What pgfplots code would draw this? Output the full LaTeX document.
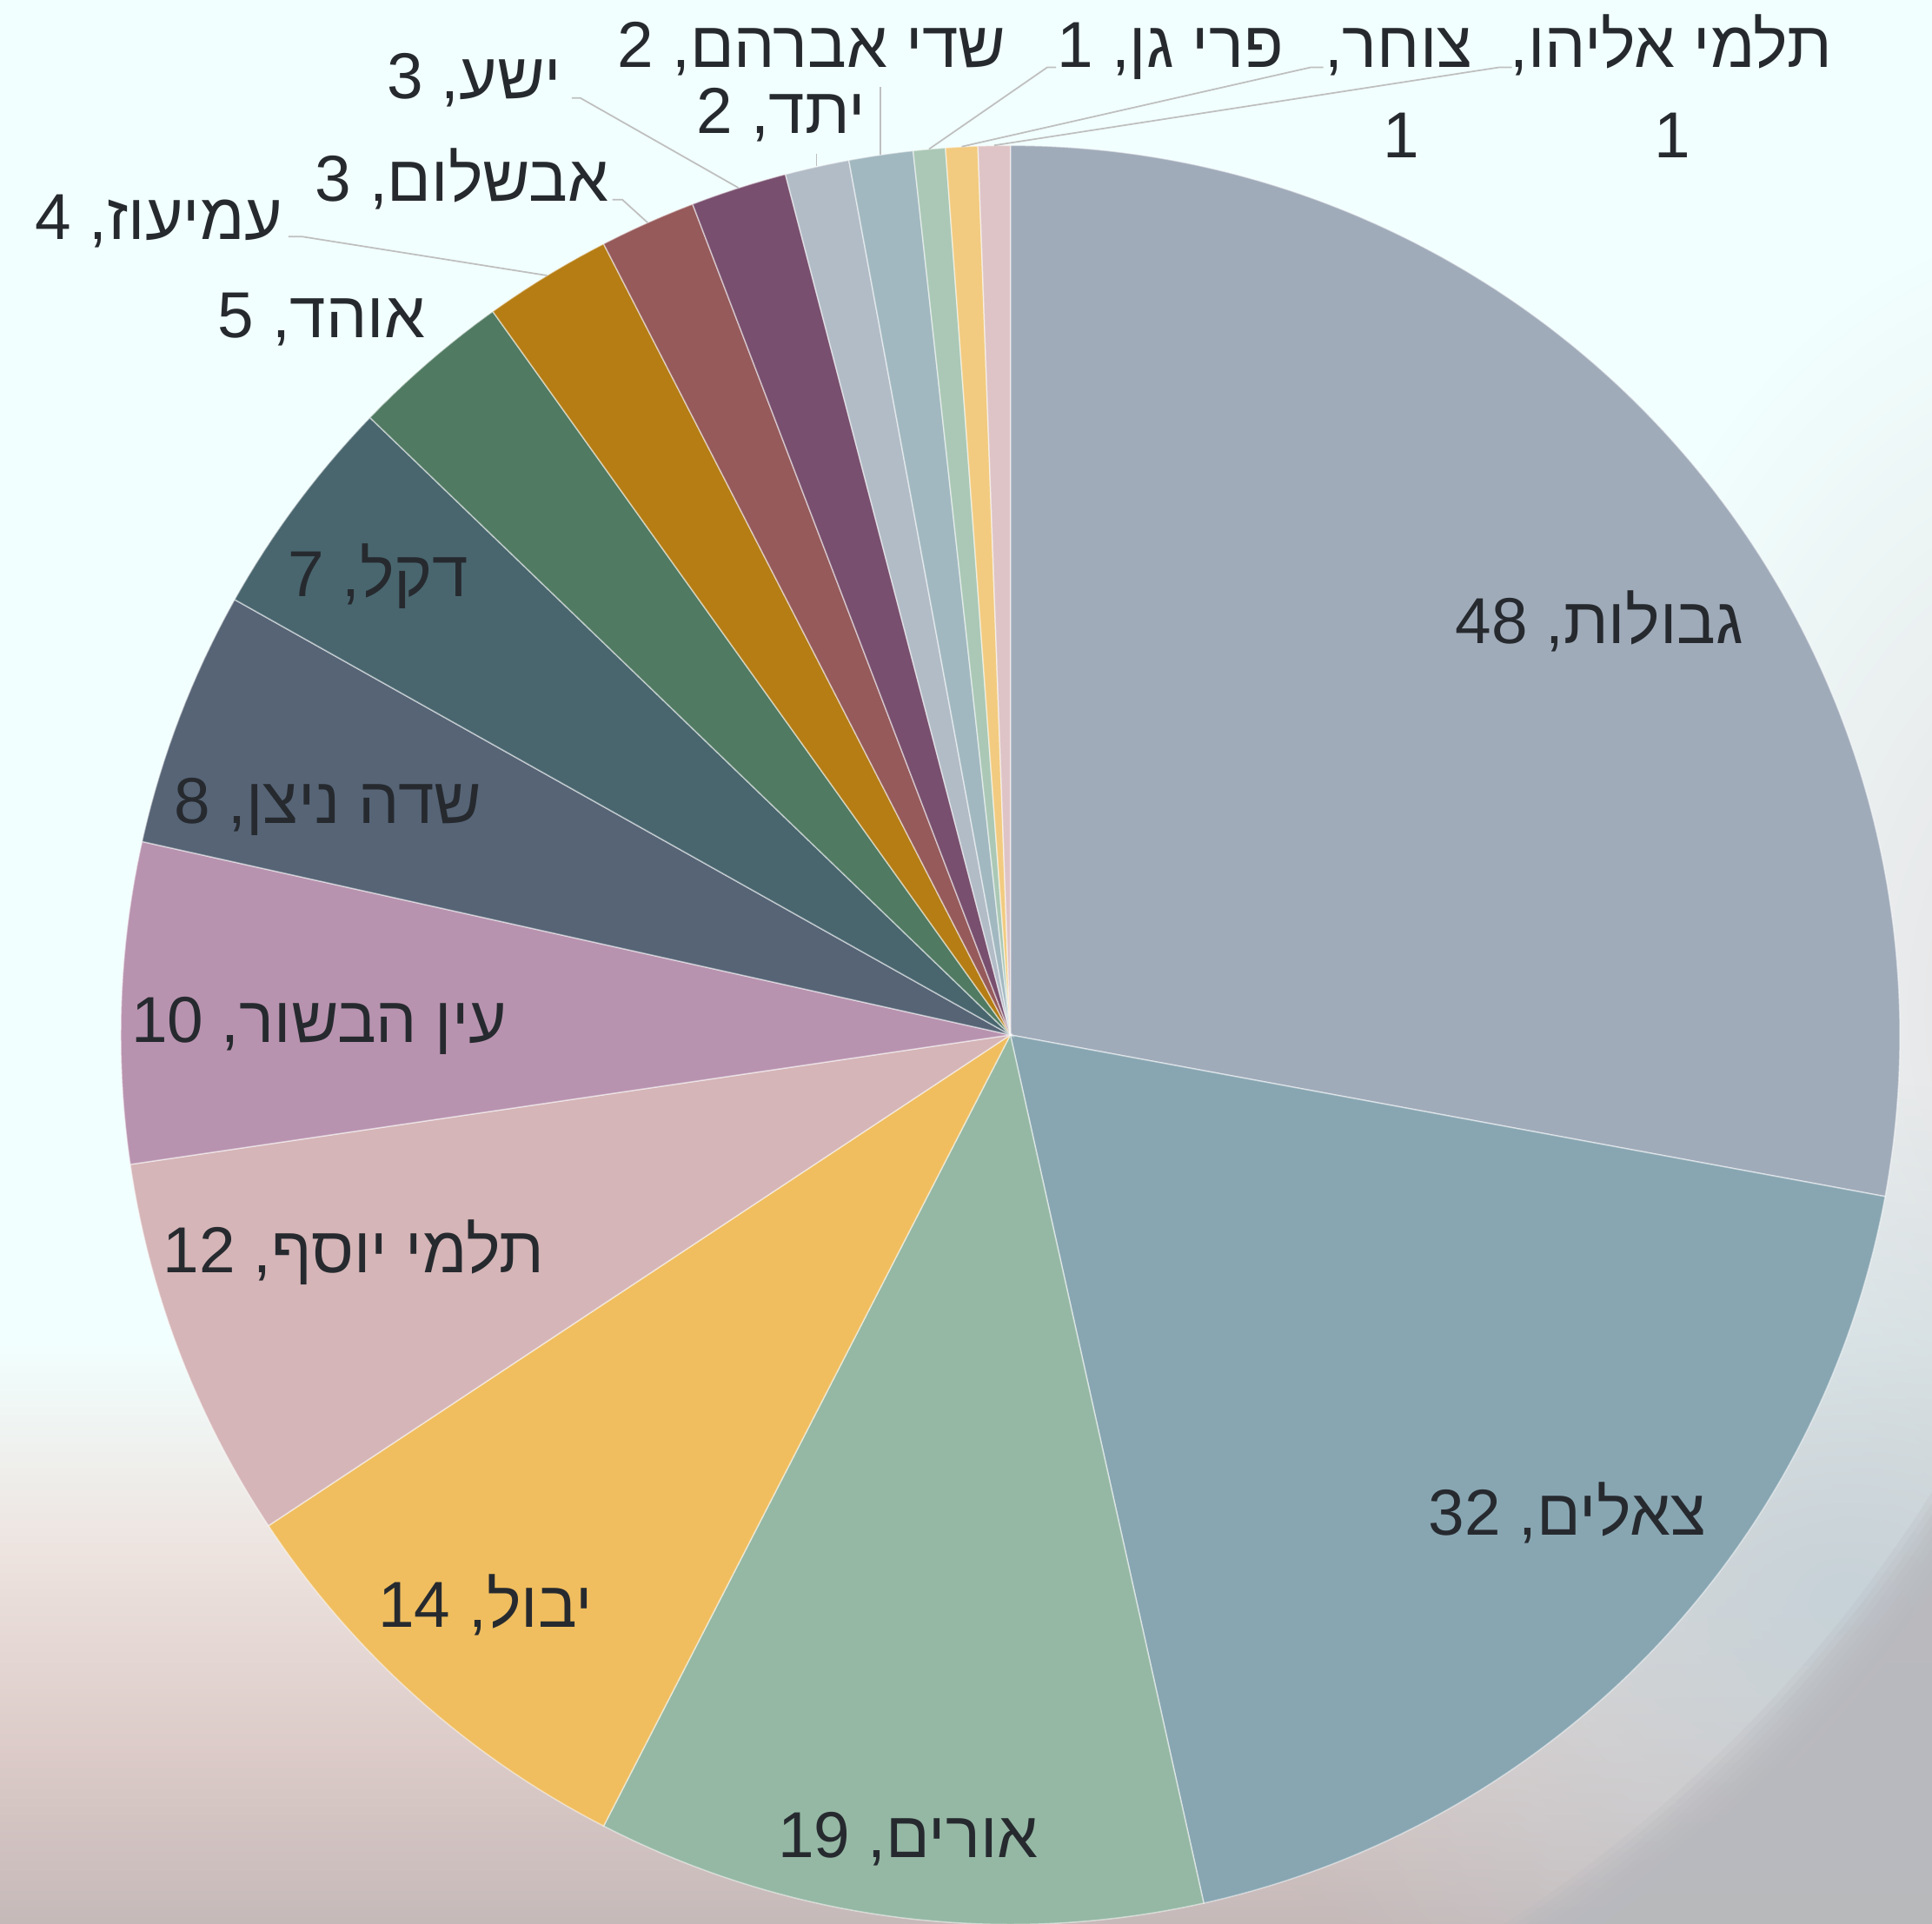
\documentclass[border=0pt]{standalone}
\usepackage{fontspec}
\usepackage{pgfplots}
\pgfplotsset{compat=1.18}
\usetikzlibrary{fadings}
\TeXXeTstate=1
\newfontfamily\heb[Script=Hebrew]{Liberation Sans}

\definecolor{sA}{HTML}{A0ABBA}
\definecolor{sB}{HTML}{88A6B2}
\definecolor{sC}{HTML}{95B8A4}
\definecolor{sD}{HTML}{F0BE5F}
\definecolor{sE}{HTML}{D5B5B7}
\definecolor{sF}{HTML}{B893AF}
\definecolor{sG}{HTML}{566476}
\definecolor{sH}{HTML}{49666F}
\definecolor{sI}{HTML}{507A62}
\definecolor{sJ}{HTML}{B57D13}
\definecolor{sK}{HTML}{965A5A}
\definecolor{sL}{HTML}{784F6E}
\definecolor{sM}{HTML}{B2BCC7}
\definecolor{sN}{HTML}{A1B8C0}
\definecolor{sO}{HTML}{AAC8B5}
\definecolor{sP}{HTML}{F2CB80}
\definecolor{sQ}{HTML}{DEC4C6}
\definecolor{txt}{HTML}{262A2F}
\definecolor{lead}{HTML}{BFBFBF}
\definecolor{bg0}{HTML}{F1FFFE}
\definecolor{bg1}{HTML}{EDE3DF}
\definecolor{bg2}{HTML}{DCCBC8}
\definecolor{bg3}{HTML}{C4B8B8}
\definecolor{rtint}{HTML}{E4DFE1}
\definecolor{band}{HTML}{C6D2D8}
\definecolor{outgrey}{HTML}{B8B9BE}

\tikzfading[name=blob, inner color=transparent!0, outer color=transparent!100]
\tikzset{lbl/.style={font=\heb\fontsize{15pt}{18pt}\selectfont, text=txt, inner sep=0pt, anchor=base}}

% total = 172 ; arguments: cumulative value before slice, value, colour
\newcommand{\slice}[3]{%
  \addplot[fill=#3, draw=white, draw opacity=0.5, line width=0.3pt,
    domain={90-(#1+#2)*360/172}:{90-#1*360/172}, samples=150, variable=\t]
    ({820+722*cos(\t)}, {840-722*sin(\t)}) -- (axis cs:820,840) -- cycle;
}

\begin{document}
\begin{tikzpicture}
\begin{scope}[x=0.01cm, y=-0.01cm, shift={(0cm,15.61cm)}]
  \clip (-10,-10) rectangle (1578,1571);
  \fill[bg0] (-10,-10) rectangle (1578,1092);
  \shade[top color=bg0, bottom color=bg1] (-10,1090) rectangle (1578,1262);
  \shade[top color=bg1, bottom color=bg2] (-10,1260) rectangle (1578,1422);
  \shade[top color=bg2, bottom color=bg3] (-10,1420) rectangle (1578,1571);
  \fill[rtint, path fading=blob] (1700,820) ellipse (4.4cm and 6.4cm);
  \begin{scope}
    \clip (600,600) circle (11.9cm);
    \fill[band, path fading=blob] (1500,1300) ellipse (5.4cm and 4.2cm);
  \end{scope}
  \foreach \r in {11.45,11.5,11.55,11.6,11.65,11.7,11.75,11.8,11.85,11.9,11.95}{
    \fill[outgrey, fill opacity=0.22, even odd rule] (-600,-600) rectangle (2500,2500) (600,600) circle (\r cm);
  }
\end{scope}

\begin{axis}[at={(0,0)}, anchor=south west, scale only axis,
  width=15.68cm, height=15.61cm,
  xmin=0, xmax=1568, ymin=0, ymax=1561, y dir=reverse,
  hide axis, clip=false]
\slice{0}{48}{sA}
\slice{48}{32}{sB}
\slice{80}{19}{sC}
\slice{99}{14}{sD}
\slice{113}{12}{sE}
\slice{125}{10}{sF}
\slice{135}{8}{sG}
\slice{143}{7}{sH}
\slice{150}{5}{sI}
\slice{155}{4}{sJ}
\slice{159}{3}{sK}
\slice{162}{3}{sL}
\slice{165}{2}{sM}
\slice{167}{2}{sN}
\slice{169}{1}{sO}
\slice{170}{1}{sP}
\slice{171}{1}{sQ}

\draw[lead, line width=0.35pt] (axis cs:464,79.5) -- (axis cs:471,79.5) -- (axis cs:599.4,152.5);
\draw[lead, line width=0.35pt] (axis cs:497,162) -- (axis cs:505,162) -- (axis cs:525.6,180.7);
\draw[lead, line width=0.35pt] (axis cs:234,192) -- (axis cs:245,192) -- (axis cs:444,223.6);
\draw[lead, line width=0.35pt] (axis cs:662.6,125) -- (axis cs:662.6,135);
\draw[lead, line width=0.35pt] (axis cs:714.5,70.5) -- (axis cs:714.5,125.7);
\draw[lead, line width=0.35pt] (axis cs:857,54.6) -- (axis cs:850,54.6) -- (axis cs:754,121);
\draw[lead, line width=0.35pt] (axis cs:1074,54.6) -- (axis cs:1064,54.6) -- (axis cs:780.5,119);
\draw[lead, line width=0.35pt] (axis cs:1227,54.6) -- (axis cs:1217,54.6) -- (axis cs:806.8,118);

\node[lbl] at (axis cs:1298,522) {\beginR גבולות, 48\endR};
\node[lbl] at (axis cs:1272,1246) {\beginR צאלים, 32\endR};
\node[lbl] at (axis cs:737,1508) {\beginR אורים, 19\endR};
\node[lbl] at (axis cs:394,1321) {\beginR יבול, 14\endR};
\node[lbl] at (axis cs:287,1033) {\beginR תלמי יוסף, 12\endR};
\node[lbl] at (axis cs:259,846) {\beginR עין הבשור, 10\endR};
\node[lbl] at (axis cs:266,668) {\beginR שדה ניצן, 8\endR};
\node[lbl] at (axis cs:307,484) {\beginR דקל, 7\endR};
\node[lbl] at (axis cs:261,274) {\beginR אוהד, 5\endR};
\node[lbl] at (axis cs:129,194) {\beginR עמיעוז, 4\endR};
\node[lbl] at (axis cs:375,163) {\beginR אבשלום, 3\endR};
\node[lbl] at (axis cs:385,80) {\beginR ישע, 3\endR};
\node[lbl] at (axis cs:659,55) {\beginR שדי אברהם, 2\endR};
\node[lbl] at (axis cs:634,108) {\beginR יתד, 2\endR};
\node[lbl] at (axis cs:950,55) {\beginR פרי גן, 1\endR};
\node[lbl] at (axis cs:1135,55) {\beginR צוחר,\endR};
\node[lbl] at (axis cs:1137,128) {1};
\node[lbl] at (axis cs:1356,55) {\beginR תלמי אליהו,\endR};
\node[lbl] at (axis cs:1357,128) {1};
\end{axis}
\pgfresetboundingbox
\path (0,0) rectangle (15.68cm,15.61cm);
\end{tikzpicture}
\end{document}
